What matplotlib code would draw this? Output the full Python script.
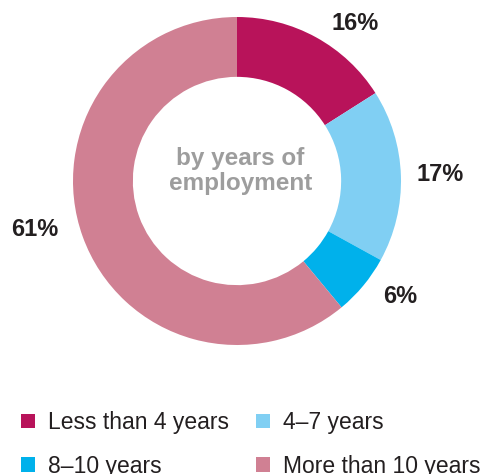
import numpy as np
import matplotlib.pyplot as plt
from matplotlib.patches import Patch

# Share of staff by years of employment
categories = ["Less than 4 years", "4\u20137 years", "8\u201310 years", "More than 10 years"]
shares = [16, 17, 6, 61]
colors = ["#b8135a", "#80cff3", "#00b1eb", "#d08093"]

plt.rcParams["font.family"] = ["Liberation Sans", "DejaVu Sans"]

fig = plt.figure(figsize=(4.82, 4.74), dpi=100)
ax = fig.add_axes([0, 0, 1, 1])

# ring, clockwise from 12 o'clock
wedges, _ = ax.pie(shares, colors=colors, startangle=90, counterclock=False,
                   radius=1.0, wedgeprops=dict(width=0.365, edgecolor="none"))

# percentage labels outside the ring (angle tweak, distance from centre)
nudge = [-8.2, -0.1, 4.2, -6.2]
dist = [1.20, 1.24, 1.22, 1.27]
for w, val, d, r in zip(wedges, shares, nudge, dist):
    ang = np.deg2rad((w.theta1 + w.theta2) / 2 + d)
    ax.text(r * np.cos(ang), r * np.sin(ang), f"{val}%",
            ha="center", va="center", fontsize=17, fontweight="bold", color="#231f20")

ax.text(0.02, 0.06, "by years of\nemployment", ha="center", va="center",
        fontsize=17.5, fontweight="bold", color="#9d9d9d", linespacing=1.1)

ax.set_xlim(-237 / 164, 245 / 164)
ax.set_ylim(-293 / 164, 181 / 164)
ax.set_aspect("auto")
ax.axis("off")

# legend is filled column by column, so reorder to read across rows
order = [0, 2, 1, 3]
handles = [Patch(facecolor=colors[i], edgecolor="none") for i in order]
labels = [categories[i] for i in order]
fig.legend(handles, labels, loc="upper left", bbox_to_anchor=(21 / 482, 1 - 411 / 474),
           ncol=2, frameon=False, fontsize=16.5, handlelength=0.6, handleheight=0.6,
           handletextpad=0.6, columnspacing=1.15, labelspacing=0.9,
           borderpad=0, borderaxespad=0, labelcolor="#231f20")

fig.savefig("out.png", dpi=100)
